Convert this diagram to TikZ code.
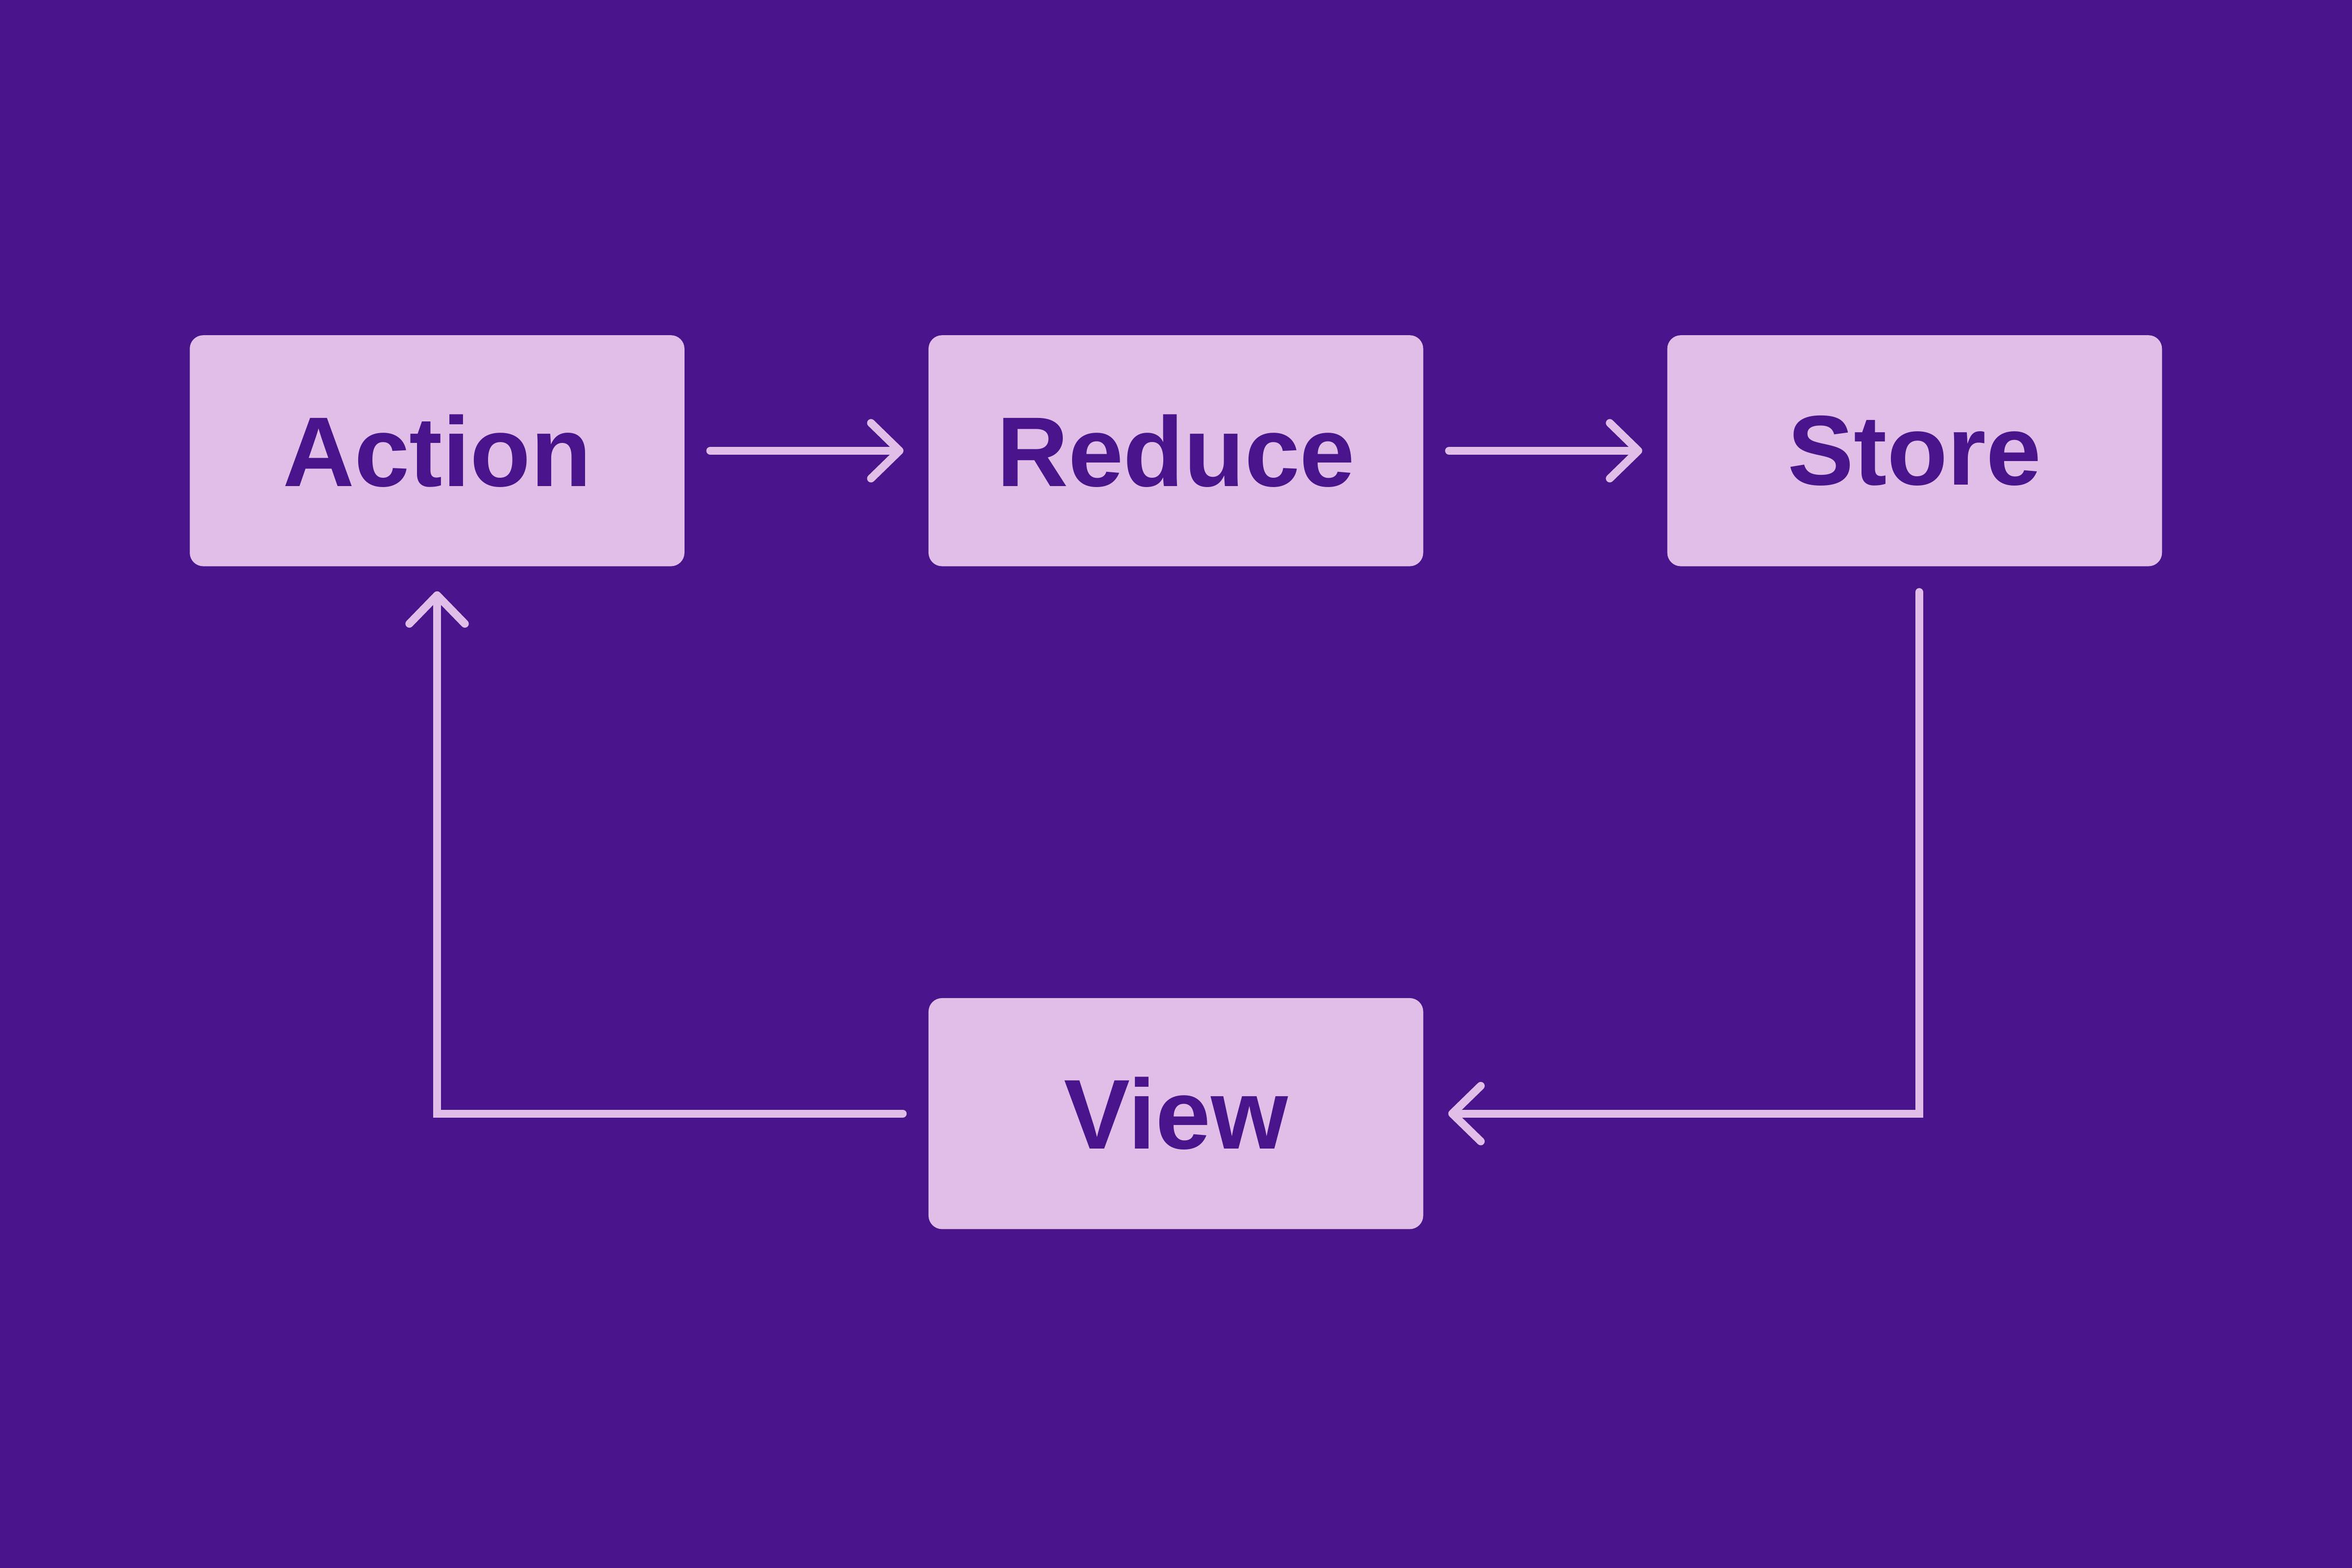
\documentclass[tikz,border=0pt]{standalone}
\usepackage{fontspec}
\setmainfont{Liberation Sans}
\usetikzlibrary{arrows.meta,positioning}
\definecolor{bgcol}{HTML}{4A148C}
\definecolor{boxcol}{HTML}{E1BEE7}
\tikzstyle{box}=[fill=boxcol,rounded corners=0.09cm,minimum width=3.298cm,minimum height=1.54cm,inner sep=0pt,text=bgcol,font=\fontsize{18.8}{23}\selectfont\bfseries]
\tikzstyle{flow}=[-{Straight Barb[length=0.19cm,width=0.37cm,round]},line width=1.5pt,line cap=round,boxcol,shorten <=0.165cm,shorten >=0.16cm]

\begin{document}
\begin{tikzpicture}
  \fill[bgcol] (0,0) rectangle (15.68,-10.4533);
  \useasboundingbox (0,0) rectangle (15.68,-10.4533);
  % Boxes
  \node[box] (action) at (2.914,-3.005) {Action};
  \node[box,right=1.613cm of action] (reduce) {Reduce};
  \node[box,right=1.613cm of reduce] (store) {Store};
  \node[box,below=2.865cm of reduce] (view) {View};
  % Flow
  \draw[flow] (action) -- (reduce);
  \draw[flow] (reduce) -- (store);
  \draw[flow] ([xshift=0.03cm]store.south) |- (view.east);
  \draw[flow] (view.west) -| (action.south);
\end{tikzpicture}
\end{document}
